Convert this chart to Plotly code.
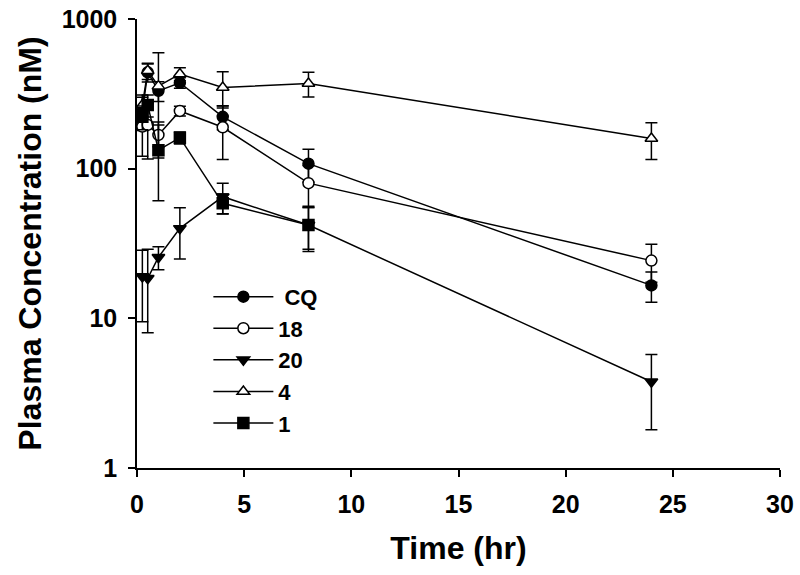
import plotly.graph_objects as go

# ---- data ----
times = [0.25, 0.5, 1, 2, 4, 8, 24]
times_1 = [0.25, 0.5, 1, 2, 4, 8]

cq = [240, 440, 331, 375, 222, 108, 16.6]
cq_sd = [60, 60, 50, 30, 40, 27, 3.8]

c18 = [191, 196, 168, 243, 189, 80, 24.3]
c18_sd = [70, 80, 28, 18, 74, 25, 6.9]

c20 = [19.0, 18.5, 25.6, 39.9, 65, 42, 3.77]
c20_sd = [9.5, 10.5, 4.5, 15, 15, 14, 1.97]

c4 = [266, 451, 356, 429, 349, 371, 159]
c4_sd = [45, 56, 238, 43, 95, 70, 44]

c1 = [222, 266, 133, 161, 58.7, 42]
c1_sd = [40, 45, 72, 15, 9, 13]

y_ticks = [1, 10, 100, 1000]
x_ticks = [0, 5, 10, 15, 20, 25, 30]

FONT = "Liberation Sans, Arial, sans-serif"

series = [
    (" CQ", times, cq, cq_sd, "circle", "black"),
    ("18", times, c18, c18_sd, "circle", "white"),
    ("20", times, c20, c20_sd, "triangle-down", "black"),
    ("4", times, c4, c4_sd, "triangle-up", "white"),
    ("1", times_1, c1, c1_sd, "square", "black"),
]

fig = go.Figure()
for name, x, y, sd, sym, fill in series:
    fig.add_trace(go.Scatter(
        x=x, y=y, name=name, mode="lines+markers",
        line=dict(color="black", width=1.5),
        marker=dict(symbol=sym, size=11, color=fill,
                    line=dict(color="black", width=1.5)),
        error_y=dict(type="data", array=sd, visible=True,
                     color="black", thickness=1.5, width=6),
    ))

fig.update_layout(
    width=800, height=575,
    margin=dict(l=137, r=20, t=19, b=107),
    paper_bgcolor="white", plot_bgcolor="white",
    font=dict(family=FONT, color="black"),
    showlegend=True,
    legend=dict(
        x=0.111, y=0.428, xanchor="left", yanchor="top",
        bgcolor="rgba(0,0,0,0)",
        font=dict(family=FONT, size=22, color="black", weight="bold"),
        itemwidth=60,
        tracegroupgap=0,
    ),
    xaxis=dict(
        range=[0, 30], tickvals=x_ticks, ticktext=[str(v) for v in x_ticks],
        showline=True, linecolor="black", linewidth=1.5,
        ticks="outside", ticklen=7, tickwidth=1.5, tickcolor="black",
        showgrid=False, zeroline=False, automargin=False,
        ticklabeloverflow="allow",
        tickfont=dict(family=FONT, size=25, color="black", weight="bold"),
        ticklabelstandoff=6,
        title=dict(text="Time (hr)", standoff=20,
                   font=dict(family=FONT, size=32, color="black", weight="bold")),
    ),
    yaxis=dict(
        type="log", range=[0, 3], tickvals=y_ticks,
        ticktext=[str(v) for v in y_ticks],
        showline=True, linecolor="black", linewidth=1.5,
        ticks="outside", ticklen=7, tickwidth=1.5, tickcolor="black",
        showgrid=False, zeroline=False, automargin=False,
        ticklabeloverflow="allow",
        tickfont=dict(family=FONT, size=25, color="black", weight="bold"),
        ticklabelstandoff=6,
        title=dict(text="Plasma Concentration (nM)", standoff=10,
                   font=dict(family=FONT, size=32, color="black", weight="bold")),
    ),
)

fig.write_html("out.html", config={"displayModeBar": False},
               post_script="document.body.style.margin='0';")
